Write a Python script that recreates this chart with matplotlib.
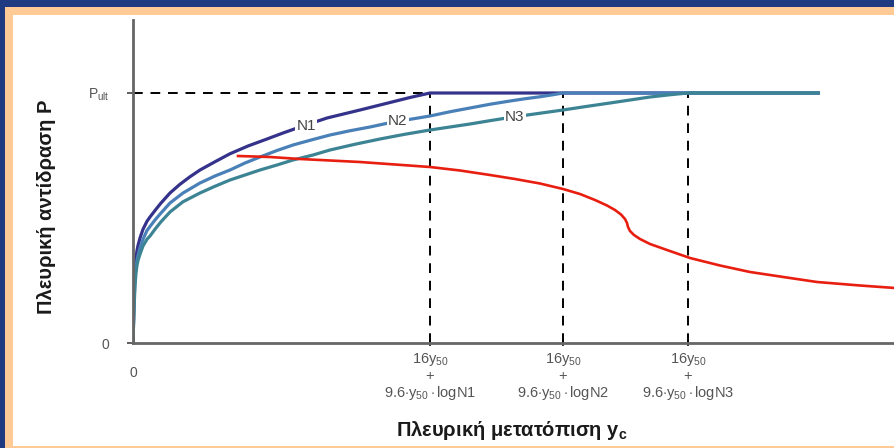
import matplotlib
matplotlib.use("Agg")
import matplotlib.pyplot as plt
from matplotlib.patches import Rectangle

plt.rcParams['font.family'] = ['Liberation Sans', 'DejaVu Sans']
plt.rcParams['mathtext.fontset'] = 'custom'
plt.rcParams['mathtext.rm'] = 'Liberation Sans'
plt.rcParams['mathtext.it'] = 'Liberation Sans:italic'
plt.rcParams['mathtext.bf'] = 'Liberation Sans:bold'

# ---- data: lateral displacement (x) vs lateral resistance as fraction of P_ult (y) ----
n1_x = [0, 0.01, 0.02, 0.03, 0.04, 0.05, 0.07, 0.10, 0.14, 0.17, 0.22, 0.28, 0.37, 0.47, 0.57,
        0.67, 0.82, 0.97, 1.15, 1.34, 1.50, 1.67, 1.94, 2.27, 2.57, 2.77, 2.97, 6.87]
n1_y = [0, 0.17, 0.29, 0.34, 0.37, 0.39, 0.42, 0.455, 0.487, 0.504, 0.53, 0.56, 0.60, 0.635, 0.665,
        0.692, 0.725, 0.757, 0.788, 0.816, 0.84, 0.864, 0.90, 0.932, 0.962, 0.982, 1.0, 1.0]

n2_x = [0, 0.01, 0.02, 0.03, 0.04, 0.05, 0.07, 0.10, 0.14, 0.17, 0.22, 0.28, 0.37, 0.50, 0.67,
        0.82, 0.97, 1.12, 1.27, 1.44, 1.60, 1.80, 1.97, 2.17, 2.37, 2.52, 2.67, 2.82, 2.97,
        3.17, 3.37, 3.57, 3.77, 3.92, 4.07, 4.20, 4.30, 6.87]
n2_y = [0, 0.152, 0.26, 0.30, 0.33, 0.35, 0.38, 0.415, 0.45, 0.466, 0.492, 0.52, 0.56, 0.60, 0.64,
        0.668, 0.692, 0.72, 0.744, 0.77, 0.792, 0.814, 0.832, 0.849, 0.864, 0.877, 0.888, 0.898, 0.908,
        0.925, 0.94, 0.955, 0.968, 0.977, 0.985, 0.993, 1.0, 1.0]

n3_x = [0, 0.01, 0.02, 0.03, 0.04, 0.05, 0.07, 0.10, 0.14, 0.17, 0.22, 0.28, 0.37, 0.50, 0.67,
        0.82, 0.97, 1.12, 1.27, 1.44, 1.60, 1.80, 1.97, 2.22, 2.47, 2.72, 2.97, 3.17, 3.37, 3.58,
        3.80, 4.05, 4.30, 4.53, 4.77, 4.97, 5.17, 5.37, 5.55, 6.87]
n3_y = [0, 0.132, 0.23, 0.28, 0.31, 0.33, 0.355, 0.388, 0.415, 0.428, 0.455, 0.485, 0.524, 0.565, 0.60,
        0.627, 0.652, 0.672, 0.692, 0.712, 0.732, 0.752, 0.772, 0.795, 0.816, 0.835, 0.852, 0.864, 0.876, 0.89,
        0.904, 0.918, 0.932, 0.946, 0.96, 0.972, 0.984, 0.993, 1.0, 1.0]

red_x = [1.05, 1.37, 1.67, 1.97, 2.27, 2.62, 2.97, 3.27, 3.57, 3.82, 4.07, 4.30, 4.47, 4.62, 4.74,
         4.82, 4.88, 4.92, 4.94, 4.95, 4.97, 5.01, 5.07, 5.17, 5.34, 5.57, 5.87, 6.17, 6.57, 6.84,
         7.27, 7.62]
red_y = [0.748, 0.744, 0.736, 0.73, 0.724, 0.714, 0.704, 0.69, 0.672, 0.656, 0.638, 0.616, 0.596, 0.572, 0.55,
         0.532, 0.514, 0.496, 0.48, 0.464, 0.448, 0.432, 0.416, 0.396, 0.372, 0.34, 0.31, 0.284, 0.26, 0.244,
         0.23, 0.22]

p_ult = 1.0
ult_disp = [2.97, 4.3, 5.55]          # displacement where each curve reaches P_ult
curve_names = ['N1', 'N2', 'N3']
label_pos = [(1.73, 0.866), (2.65, 0.888), (3.82, 0.905)]
xtick_labels = [
    '16$\\mathregular{y_{50}}$\n+\n9.6$\\cdot\\mathregular{y_{50}}\\cdot$logN1',
    '16$\\mathregular{y_{50}}$\n+\n9.6$\\cdot\\mathregular{y_{50}}\\cdot$logN2',
    '16$\\mathregular{y_{50}}$\n+\n9.6$\\cdot\\mathregular{y_{50}}\\cdot$logN3',
]
ylabel = 'Πλευρική αντίδραση P'
xlabel = 'Πλευρική μετατόπιση $\\mathregular{y_c}$'

W, H = 895, 448
fig = plt.figure(figsize=(W / 100, H / 100), dpi=100)
fig.patch.set_facecolor('#1E3B82')
fig.patches.append(Rectangle((5.5 / W, 0), 1, (H - 7) / H, transform=fig.transFigure,
                             facecolor='#FFCA96', edgecolor='none', zorder=-10))
fig.patches.append(Rectangle((13.5 / W, 2 / H), 1, (H - 15 - 2) / H, transform=fig.transFigure,
                             facecolor='white', edgecolor='none', zorder=-9))

ax = fig.add_axes([133 / W, (H - 343) / H, (W - 133) / W, (343 - 20) / H])
ax.set_zorder(2)
ax.set_facecolor('none')
ax.set_xlim(0, 7.62)
ax.set_ylim(0, 1.292)

colors = ['#34328A', '#4A80B8', '#3C8494']
for xs, ys, c in zip([n1_x, n2_x, n3_x], [n1_y, n2_y, n3_y], colors):
    ax.plot(xs, ys, color=c, lw=2.3, solid_capstyle='butt', solid_joinstyle='round', zorder=3)

for name, (lx, ly) in zip(curve_names, label_pos):
    ax.text(lx, ly, name, fontsize=11, color='#444444', ha='center', va='center', zorder=4,
            bbox=dict(facecolor='white', edgecolor='none', pad=0.6))

# dashed guides
ax.plot([0, ult_disp[0]], [p_ult, p_ult], color='black', lw=1.4, dashes=(5, 4), zorder=2)
for xd in ult_disp:
    ax.plot([xd, xd], [0, p_ult], color='black', lw=1.4, dashes=(5, 4), zorder=2)

ax.plot(red_x, red_y, color='#E81E10', lw=1.9, zorder=5, clip_on=False, solid_joinstyle='round')

for s in ['top', 'right']:
    ax.spines[s].set_visible(False)
for s in ['left', 'bottom']:
    ax.spines[s].set_color('#666666')
    ax.spines[s].set_linewidth(2)
    ax.spines[s].set_zorder(6)

ax.set_yticks([0, p_ult])
ax.set_yticklabels(['0', '$\\mathregular{P_{ult}}$'])
ax.tick_params(axis='y', length=4, width=1.2, color='#444444', pad=13, labelsize=10, labelcolor='#555555')
ax.set_xticks(ult_disp)
ax.set_xticklabels([''] * 3)
ax.tick_params(axis='x', length=5, width=1.4, color='#333333', direction='inout')

ax.text(0, -0.12, '0', fontsize=10, color='#555555', ha='center', va='center')
for xd, lab in zip(ult_disp, xtick_labels):
    ax.text(xd, -0.03, lab, fontsize=10.5, color='#555555', ha='center', va='top', linespacing=1.12)

fig.text(47 / W, 1 - 207 / H, ylabel, rotation=90, fontsize=14.5, fontweight='bold',
         color='#1A1A1A', ha='center', va='center')
fig.text(512 / W, 1 - 430 / H, xlabel, fontsize=14.5, fontweight='bold',
         color='#1A1A1A', ha='center', va='center')

fig.savefig('out.png', dpi=100, facecolor=fig.get_facecolor())
